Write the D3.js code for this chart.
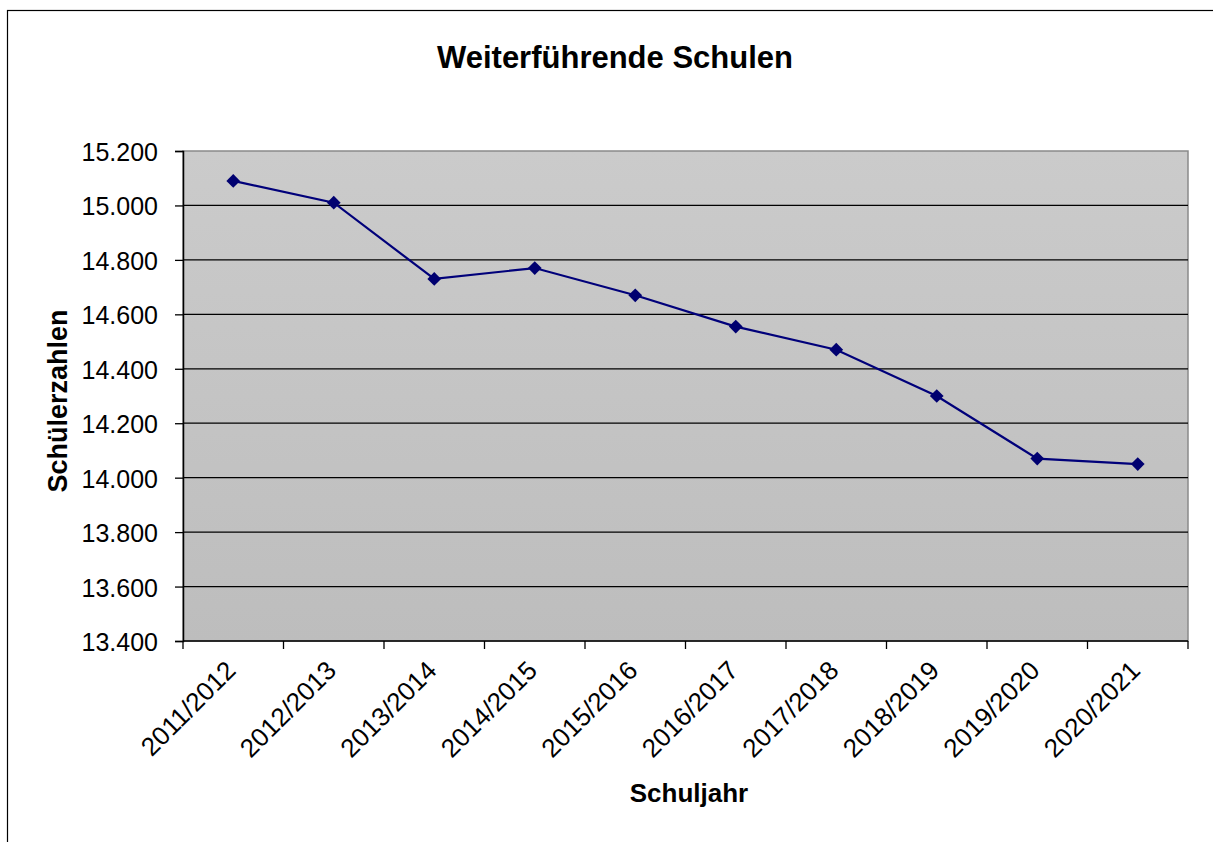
<!DOCTYPE html>
<html>
<head>
<meta charset="utf-8">
<script src="https://cdn.jsdelivr.net/npm/d3@7"></script>
<style>
  body { margin: 0; background: #fff; }
  text { font-family: "Liberation Sans", Arial, sans-serif; fill: #000; }
</style>
</head>
<body>
<script>
// Schuljahre und Schuelerzahlen
var years = ["2011/2012", "2012/2013", "2013/2014", "2014/2015", "2015/2016",
             "2016/2017", "2017/2018", "2018/2019", "2019/2020", "2020/2021"];
var pupils = [15090, 15010, 14730, 14770, 14670, 14555, 14470, 14300, 14070, 14050];
var yTicks = [13400, 13600, 13800, 14000, 14200, 14400, 14600, 14800, 15000, 15200];

var W = 1213, H = 842;
var margin = {top: 151, right: 25, bottom: 201, left: 183};
var width = W - margin.left - margin.right,
    height = H - margin.top - margin.bottom;

var svg = d3.select("body").append("svg")
    .attr("width", W)
    .attr("height", H);

// outer frame of the chart object
svg.append("rect")
    .attr("x", 7.5).attr("y", 10.5)
    .attr("width", W + 20).attr("height", H + 20)
    .attr("fill", "#fff")
    .attr("stroke", "#000")
    .attr("stroke-width", 1.2);

var defs = svg.append("defs");
var grad = defs.append("linearGradient")
    .attr("id", "plotbg")
    .attr("x1", 0).attr("y1", 0).attr("x2", 0).attr("y2", 1);
grad.append("stop").attr("offset", "0%").attr("stop-color", "#cbcbcb");
grad.append("stop").attr("offset", "100%").attr("stop-color", "#bdbdbd");

var g = svg.append("g")
    .attr("transform", "translate(" + margin.left + "," + margin.top + ")");

var x = d3.scaleBand().domain(years).range([0, width]).padding(0);
var y = d3.scaleLinear().domain([13400, 15200]).range([height, 0]);

// plot area
g.append("rect")
    .attr("width", width).attr("height", height)
    .attr("fill", "url(#plotbg)")
    .attr("stroke", "#8a8a8a")
    .attr("stroke-width", 1.5);

// gridlines
g.selectAll(".grid")
    .data(yTicks.slice(1, -1))
    .enter().append("line")
    .attr("class", "grid")
    .attr("x1", 0).attr("x2", width)
    .attr("y1", function(d) { return y(d); })
    .attr("y2", function(d) { return y(d); })
    .attr("stroke", "#000")
    .attr("stroke-width", 1.3);

// y axis
var yAxis = g.append("g")
    .call(d3.axisLeft(y)
        .tickValues(yTicks)
        .tickSize(8)
        .tickPadding(17)
        .tickFormat(function(d) { return d3.format(",")(d).replace(",", "."); }));
yAxis.select(".domain").attr("stroke", "#000").attr("stroke-width", 1.5);
yAxis.selectAll(".tick line").attr("stroke", "#000").attr("stroke-width", 1.3);
yAxis.selectAll("text")
    .attr("font-size", 25)
    .attr("dy", "0.38em")
    .attr("font-family", "Liberation Sans, Arial, sans-serif")
    .attr("fill", "#000");

// x axis: ticks on category borders
var xAxisG = g.append("g").attr("transform", "translate(0," + height + ")");
xAxisG.append("line")
    .attr("x1", 0).attr("x2", width)
    .attr("stroke", "#000").attr("stroke-width", 1.5);
var borders = years.map(function(d) { return x(d); }).concat([width]);
xAxisG.selectAll(".xt")
    .data(borders)
    .enter().append("line")
    .attr("class", "xt")
    .attr("x1", function(d) { return d; })
    .attr("x2", function(d) { return d; })
    .attr("y1", 0).attr("y2", 8)
    .attr("stroke", "#000").attr("stroke-width", 1.3);

xAxisG.selectAll(".xl")
    .data(years)
    .enter().append("text")
    .attr("class", "xl")
    .attr("transform", function(d) {
        return "translate(" + (x(d) + x.bandwidth() / 2 + 4) + ",31) rotate(-45)";
    })
    .attr("text-anchor", "end")
    .attr("font-size", 26)
    .text(function(d) { return d; });

// line + markers
var cx = function(d, i) { return x(years[i]) + x.bandwidth() / 2; };
var line = d3.line()
    .x(cx)
    .y(function(d) { return y(d); });

g.append("path")
    .datum(pupils)
    .attr("d", line)
    .attr("fill", "none")
    .attr("stroke", "#00007a")
    .attr("stroke-width", 2.2);

g.selectAll(".pt")
    .data(pupils)
    .enter().append("path")
    .attr("class", "pt")
    .attr("d", d3.symbol().type(d3.symbolDiamond2).size(120))
    .attr("transform", function(d, i) { return "translate(" + cx(d, i) + "," + y(d) + ")"; })
    .attr("fill", "#000070");

// titles
svg.append("text")
    .attr("x", 615).attr("y", 68)
    .attr("text-anchor", "middle")
    .attr("font-size", 31)
    .attr("font-weight", "bold")
    .text("Weiterführende Schulen");

svg.append("text")
    .attr("transform", "translate(67,401) rotate(-90)")
    .attr("text-anchor", "middle")
    .attr("font-size", 27)
    .attr("font-weight", "bold")
    .text("Schülerzahlen");

svg.append("text")
    .attr("x", 689).attr("y", 802)
    .attr("text-anchor", "middle")
    .attr("font-size", 26)
    .attr("font-weight", "bold")
    .text("Schuljahr");
</script>
</body>
</html>
